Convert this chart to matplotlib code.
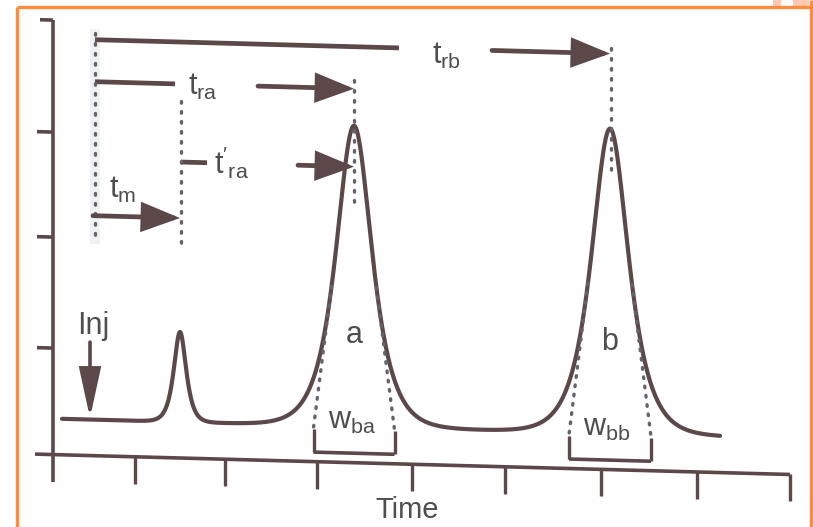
import numpy as np
import matplotlib
matplotlib.use("Agg")
import matplotlib.pyplot as plt
from matplotlib import font_manager
from matplotlib.transforms import Affine2D
from matplotlib.patches import ArrowStyle, Rectangle

# ---------------- data (drawing units, y grows downward) ----------------
peak_names = ['m', 'a', 'b']
peak_times = [180, 354, 610]          # retention positions
peak_heights = [90, 301, 305]         # peak height above the baseline
peak_shape = [5.5, 16.0, 16.5]        # peak width parameter
base_widths = [0, 81, 82]             # w_b measured by tangents
baseline_level = 418.5
signal_start, signal_end = 62, 720
t_zero = 95                           # start of the time measurements
inj_pos = 90

time_ticks = [135, 225, 317, 412, 505, 601, 697, 790]
signal_ticks = [132, 237, 348]

# ---------------- style ----------------
INK = '#5c4848'
DOT = '#66626c'
TXT = '#4e4e4e'
ORANGE = '#ff8c3c'
SKEW = 0.027

def pick_font():
    for name in ['Liberation Sans Narrow', 'Liberation Sans', 'DejaVu Sans']:
        try:
            font_manager.findfont(name, fallback_to_default=False)
            return name
        except Exception:
            continue
    return 'DejaVu Sans'

FONT = pick_font()
plt.rcParams['font.family'] = [FONT, 'DejaVu Sans']
plt.rcParams['mathtext.fontset'] = 'custom'
plt.rcParams['mathtext.rm'] = FONT
plt.rcParams['mathtext.it'] = FONT
plt.rcParams['mathtext.default'] = 'regular'

fig = plt.figure(figsize=(8.13, 5.27), dpi=100)
ax = fig.add_axes([0, 0, 1, 1])
ax.set_xlim(0, 813)
ax.set_ylim(527, 0)
ax.axis('off')

# scanned page is slightly sheared
T = Affine2D(np.array([[1, 0, 0], [SKEW, 1, -SKEW * 50], [0, 0, 1]])) + ax.transData

FS = 22

# faint scan shading near the start line
ax.add_patch(Rectangle((90, 28), 10, 215, color='#eef2f2', lw=0, transform=T, zorder=0))

# ---------------- axes ----------------
ax.plot([53, 53], [20, 482], color=INK, lw=2.6, transform=T, solid_capstyle='butt')
ax.plot([40, 53], [20, 20], color=INK, lw=2.6, transform=T, solid_capstyle='butt')
for yt in signal_ticks:
    ax.plot([37, 53], [yt, yt], color=INK, lw=2.6, transform=T, solid_capstyle='butt')
axis_y = 454.5
ax.plot([35, 790], [axis_y, axis_y], color=INK, lw=2.6, transform=T, solid_capstyle='butt')
for xt in time_ticks:
    ax.plot([xt, xt], [axis_y, axis_y + 27], color=INK, lw=2.4, transform=T, solid_capstyle='butt')
ax.text(407, 508, 'Time', fontsize=21, color=TXT, ha='center', va='baseline', transform=T)

# ---------------- signal ----------------
x = np.linspace(signal_start, signal_end, 2000)
y = np.full_like(x, baseline_level)
for c, h, g in zip(peak_times, peak_heights, peak_shape):
    y -= h / np.cosh((x - c) / g)
ax.plot(x, y, color=INK, lw=3.0, transform=T, solid_capstyle='round', zorder=3)

# ---------------- tangents and base widths ----------------
for name, c, h, g, w in zip(peak_names, peak_times, peak_heights, peak_shape, base_widths):
    if w <= 0:
        continue
    u = np.linspace(0.9, 4.0, 4000)
    intercept = u + 1 / np.tanh(u)
    ut = u[np.argmin(np.abs(intercept - w / (2 * g)))]
    yt = baseline_level - h / np.cosh(ut)
    for s in (-1, 1):
        xe = c + s * w / 2
        xt_ = c + s * ut * g
        ax.plot([xt_, xe], [yt, baseline_level + 2], color=DOT, lw=2.4,
                linestyle=(0, (0.5, 2.3)), dash_capstyle='round', transform=T, zorder=4)
        ax.plot([xe, xe], [baseline_level + 3, 445], color=INK, lw=2.4, transform=T,
                solid_capstyle='butt')
    ax.plot([c - w / 2, c + w / 2], [445, 445], color=INK, lw=2.6, transform=T,
            solid_capstyle='butt')
    ax.text(c, baseline_level - 84, name, fontsize=FS, color=TXT, ha='center',
            va='baseline', transform=T)
    ax.text(c - w / 2 + 14, baseline_level + 3, r'$w_{b%s}$' % name, fontsize=FS,
            color=TXT, ha='left', va='baseline', transform=T)

# ---------------- retention lines ----------------
def dotted(xp, y0, y1):
    ax.plot([xp, xp], [y0, y1], color=DOT, lw=2.4, linestyle=(0, (0.5, 2.5)),
            dash_capstyle='round', transform=T, zorder=4)

dotted(t_zero, 32, 240)
dotted(peak_times[0] + 1, 97, 242)
dotted(peak_times[1], 72, 196)
dotted(peak_times[2] + 1, 33, 160)

def arrow(x0, y0, x1, y1, hl=2.2, hw=0.85, lw=3.4):
    ax.annotate('', xy=(x1, y1), xytext=(x0, y0), xycoords=T, textcoords=T,
                arrowprops=dict(arrowstyle=ArrowStyle('-|>', head_length=hl, head_width=hw),
                                mutation_scale=10, lw=lw, color=INK, shrinkA=0, shrinkB=0,
                                joinstyle='miter'), zorder=5)

def hline(x0, x1, yy):
    ax.plot([x0, x1], [yy, yy], color=INK, lw=3.4, transform=T, solid_capstyle='butt')

# t_rb
hline(t_zero, 399, 38.5)
arrow(492, 38.5, peak_times[2], 38.5)
ax.text(432, 54, r'$t_{rb}$', fontsize=FS, color=TXT, ha='left', va='baseline', transform=T)
# t_ra
hline(t_zero, 175, 80.5)
arrow(258, 80.5, peak_times[1], 80.5)
ax.text(188, 91, r'$t_{ra}$', fontsize=FS, color=TXT, ha='left', va='baseline', transform=T)
# t'_ra
hline(peak_times[0] + 1, 207, 158.5)
arrow(298, 158.5, peak_times[1], 158.5)
ax.text(214, 169, r"$t'_{ra}$", fontsize=FS, color=TXT, ha='left', va='baseline', transform=T)
# t_m
arrow(t_zero - 2, 214.5, peak_times[0], 214.5)
ax.text(109, 196, r'$t_{m}$', fontsize=FS, color=TXT, ha='left', va='baseline', transform=T)
# Inj
arrow(inj_pos, 341, inj_pos, 417, hl=3.0, hw=0.65, lw=2.6)
ax.text(77, 333, 'Inj', fontsize=FS, color=TXT, ha='left', va='baseline', transform=T)

# ---------------- orange frame ----------------
ax.plot([17, 811], [7, 7], color=ORANGE, lw=2.4, solid_capstyle='butt')
ax.plot([17, 17], [7, 527], color=ORANGE, lw=2.4, solid_capstyle='butt')
ax.plot([811, 811], [0, 527], color=ORANGE, lw=2.4, solid_capstyle='butt')
ax.add_patch(Rectangle((773, 0), 8, 6, color='#ffc9b0', lw=0))
ax.add_patch(Rectangle((793, 0), 16, 6, color='#ffc9b0', lw=0))

fig.savefig('out.png', dpi=100)
